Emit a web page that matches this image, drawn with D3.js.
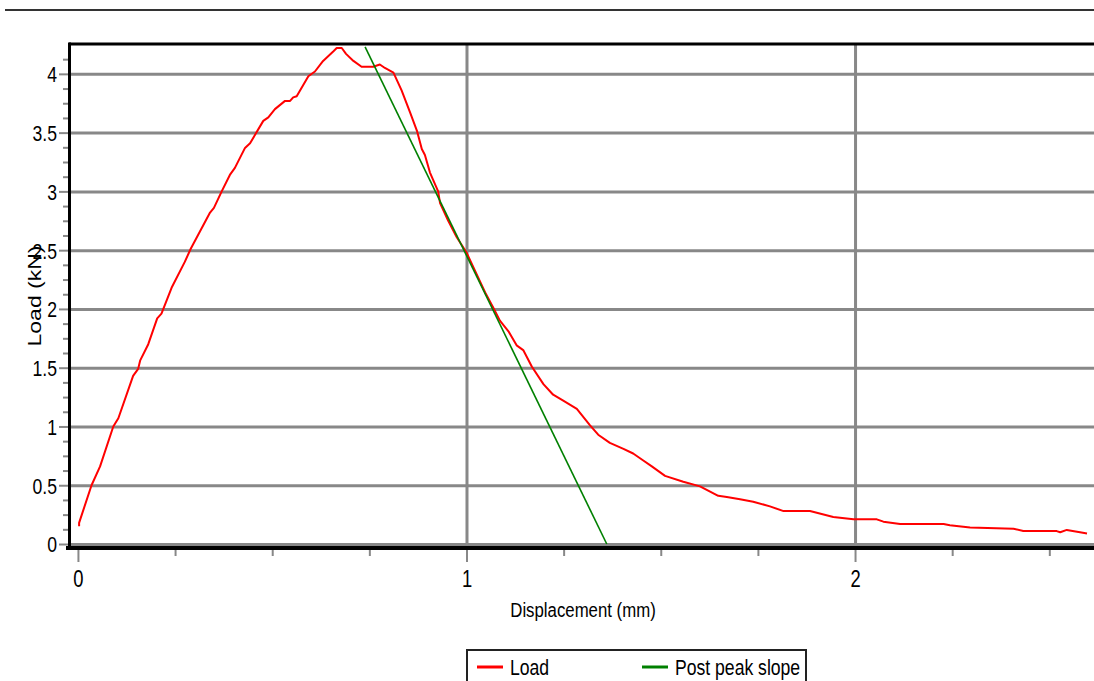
<!DOCTYPE html>
<html>
<head>
<meta charset="utf-8">
<script src="https://cdn.jsdelivr.net/npm/d3@7"></script>
<style>
    body { margin: 0; background: #fff; }
    svg { display: block; font-family: "Liberation Sans", Arial, sans-serif; }
</style>
</head>
<body>
<svg id="chart" width="1094" height="681"></svg>
<script>
// measured load-displacement curve
let disp = [0.003, 0.003, 0.035, 0.057, 0.091, 0.104, 0.142, 0.155, 0.160, 0.181, 0.204, 0.215, 0.241,
    0.275, 0.290, 0.340, 0.350, 0.370, 0.391, 0.404, 0.430, 0.443, 0.477, 0.490, 0.507, 0.533, 0.546,
    0.554, 0.563, 0.593, 0.610, 0.631, 0.657, 0.666, 0.679, 0.690, 0.709, 0.730, 0.760, 0.777, 0.790,
    0.812, 0.833, 0.855, 0.873, 0.885, 0.893, 0.906, 0.927, 0.932, 0.953, 0.975, 1.000, 1.048, 1.069,
    1.086, 1.108, 1.129, 1.146, 1.168, 1.198, 1.223, 1.249, 1.284, 1.318, 1.339, 1.369, 1.404, 1.429,
    1.455, 1.477, 1.511, 1.558, 1.601, 1.648, 1.670, 1.704, 1.738, 1.781, 1.816, 1.884, 1.944, 1.996,
    2.056, 2.073, 2.116, 2.228, 2.244, 2.296, 2.408, 2.433, 2.519, 2.528, 2.545, 2.579, 2.597]
let load = [0.15, 0.18, 0.50, 0.66, 1.00, 1.07, 1.43, 1.49, 1.56, 1.70, 1.92, 1.96, 2.18,
    2.40, 2.51, 2.82, 2.86, 3.00, 3.14, 3.20, 3.37, 3.41, 3.60, 3.63, 3.70, 3.77, 3.77,
    3.80, 3.81, 3.98, 4.02, 4.11, 4.19, 4.22, 4.22, 4.17, 4.11, 4.06, 4.06, 4.08, 4.05,
    4.01, 3.86, 3.67, 3.51, 3.36, 3.31, 3.16, 3.00, 2.90, 2.75, 2.61, 2.48, 2.14, 2.01,
    1.90, 1.81, 1.69, 1.65, 1.51, 1.36, 1.27, 1.22, 1.15, 1.01, 0.93, 0.86, 0.81, 0.77,
    0.71, 0.66, 0.58, 0.53, 0.49, 0.41, 0.40, 0.38, 0.36, 0.32, 0.28, 0.28, 0.23, 0.21,
    0.21, 0.19, 0.17, 0.17, 0.16, 0.14, 0.13, 0.11, 0.11, 0.10, 0.12, 0.10, 0.09]

// post peak slope line
let slopeDisp = [0.739, 1.361]
let slopeLoad = [4.23, 0]

let xMajor = [0, 1, 2]
let xMinor = [0.25, 0.5, 0.75, 1.25, 1.5, 1.75, 2.25, 2.5]
let yMajor = [0, 0.5, 1, 1.5, 2, 2.5, 3, 3.5, 4]
let yMinor = [0.125, 0.25, 0.375, 0.625, 0.75, 0.875, 1.125, 1.25, 1.375, 1.625, 1.75, 1.875,
    2.125, 2.25, 2.375, 2.625, 2.75, 2.875, 3.125, 3.25, 3.375, 3.625, 3.75, 3.875, 4.125]
let xDomain = [-0.023, 2.615]
let yDomain = [-0.034, 4.254]

let seriesNames = ['Load', 'Post peak slope']
let seriesColors = ['#ff0000', '#008000']

function main() {
    let svg = d3.select('#chart'),
        margin = {top: 44, left: 69, bottom: 131, right: 0},
        width = +svg.attr('width') - margin.left - margin.right,
        height = +svg.attr('height') - margin.top - margin.bottom
    let bottom = margin.top + height - 2

    let xScale = d3.scaleLinear().domain(xDomain).range([margin.left, margin.left + width]),
        yScale = d3.scaleLinear().domain(yDomain).range([margin.top + height - 2, margin.top])

    let sx = 0.8

    // rule at the top of the page
    svg.append('line')
        .attr('x1', 5).attr('x2', 1094).attr('y1', 10).attr('y2', 10)
        .attr('stroke', '#333').attr('stroke-width', 2)

    // horizontal grid
    let gy = svg.append('g')
        .attr('transform', 'translate(' + margin.left + ',0)')
        .call(d3.axisLeft(yScale).tickValues(yMajor).tickSize(-width).tickFormat(''))
    gy.select('.domain').remove()
    gy.selectAll('line').attr('stroke', '#888').attr('stroke-width', 3)

    // vertical grid
    let gx = svg.append('g')
        .attr('transform', 'translate(0,' + bottom + ')')
        .call(d3.axisBottom(xScale).tickValues(xMajor.filter(d => d > 0)).tickSize(-(bottom - margin.top)).tickFormat(''))
    gx.select('.domain').remove()
    gx.selectAll('line').attr('stroke', '#888').attr('stroke-width', 3)

    // y minor ticks
    let ym = svg.append('g')
        .attr('transform', 'translate(' + (margin.left - 1) + ',0)')
        .call(d3.axisLeft(yScale).tickValues(yMinor).tickSize(5).tickFormat(''))
    ym.select('.domain').remove()
    ym.selectAll('line').attr('stroke', '#888').attr('stroke-width', 2)

    // y major ticks and labels
    let ya = svg.append('g')
        .attr('transform', 'translate(' + margin.left + ',0)')
        .call(d3.axisLeft(yScale).tickValues(yMajor).tickSize(10).tickFormat(d3.format('')))
    ya.select('.domain').remove()
    ya.selectAll('line').attr('stroke', '#888').attr('stroke-width', 2)
    ya.selectAll('text')
        .attr('font-size', 22)
        .attr('fill', '#000')
        .attr('font-family', '"Liberation Sans", Arial, sans-serif')
        .attr('x', -12 / sx)
        .attr('dy', '0.36em')
        .attr('transform', 'scale(' + sx + ',1)')

    // x minor ticks
    let xm = svg.append('g')
        .attr('transform', 'translate(0,' + (bottom + 1) + ')')
        .call(d3.axisBottom(xScale).tickValues(xMinor).tickSize(7).tickFormat(''))
    xm.select('.domain').remove()
    xm.selectAll('line').attr('stroke', '#888').attr('stroke-width', 2)

    // x major ticks and labels
    let xa = svg.append('g')
        .attr('transform', 'translate(0,' + (bottom - 2) + ')')
        .call(d3.axisBottom(xScale).tickValues(xMajor).tickSize(16).tickFormat(d3.format('')))
    xa.select('.domain').remove()
    xa.selectAll('line').attr('stroke', '#888').attr('stroke-width', 2)
    xa.selectAll('text')
        .attr('font-size', 23)
        .attr('fill', '#000')
        .attr('font-family', '"Liberation Sans", Arial, sans-serif')
        .attr('y', 25)
        .attr('dy', '0.71em')
        .attr('x', 0)
        .attr('transform', 'scale(' + sx + ',1)')

    // curves
    let line = d3.line().x(d => xScale(d[0])).y(d => yScale(d[1]))
    svg.append('path')
        .datum(disp.map((d, i) => [d, load[i]]))
        .attr('d', line)
        .attr('fill', 'none')
        .attr('stroke', seriesColors[0])
        .attr('stroke-width', 2)
        .attr('stroke-linejoin', 'round')
    svg.append('path')
        .datum(slopeDisp.map((d, i) => [d, slopeLoad[i]]))
        .attr('d', line)
        .attr('fill', 'none')
        .attr('stroke', seriesColors[1])
        .attr('stroke-width', 1.6)

    // frame
    svg.append('line')
        .attr('x1', margin.left).attr('x2', margin.left + width)
        .attr('y1', margin.top).attr('y2', margin.top)
        .attr('stroke', '#000').attr('stroke-width', 3)
    svg.append('line')
        .attr('x1', margin.left + 0.5).attr('x2', margin.left + 0.5)
        .attr('y1', margin.top - 1.5).attr('y2', bottom + 2)
        .attr('stroke', '#000').attr('stroke-width', 3)
    svg.append('line')
        .attr('x1', margin.left - 3).attr('x2', margin.left + width)
        .attr('y1', bottom).attr('y2', bottom)
        .attr('stroke', '#000').attr('stroke-width', 4)

    // axis titles
    svg.append('text')
        .attr('transform', 'translate(583,617) scale(' + sx + ',1)')
        .attr('text-anchor', 'middle')
        .attr('font-size', 21)
        .attr('fill', '#000')
        .text('Displacement (mm)')
    svg.append('text')
        .attr('transform', 'translate(41,' + (margin.top + bottom) / 2 + ') rotate(-90) scale(1,' + sx + ')')
        .attr('text-anchor', 'middle')
        .attr('font-size', 23)
        .attr('fill', '#000')
        .text('Load (kN)')

    // legend
    let legend = svg.append('g').attr('transform', 'translate(467,650)')
    legend.append('rect')
        .attr('x', 0).attr('y', 0).attr('width', 339).attr('height', 60)
        .attr('fill', '#fff').attr('stroke', '#222').attr('stroke-width', 2)
    let offsets = [10, 175]
    seriesNames.forEach((name, i) => {
        let g = legend.append('g').attr('transform', 'translate(' + offsets[i] + ',0)')
        g.append('line')
            .attr('x1', 0).attr('x2', 26).attr('y1', 17).attr('y2', 17)
            .attr('stroke', seriesColors[i]).attr('stroke-width', 3)
        g.append('text')
            .attr('transform', 'translate(33,25) scale(' + sx + ',1)')
            .attr('font-size', 22)
            .attr('fill', '#000')
            .text(name)
    })
}

main()
</script>
</body>
</html>
